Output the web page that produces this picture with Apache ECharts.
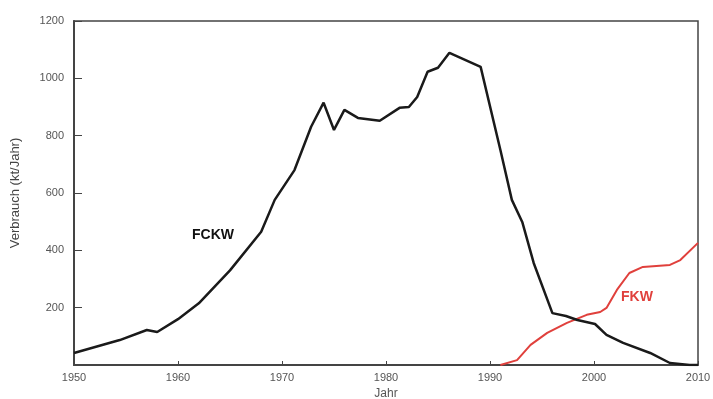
<!DOCTYPE html>
<html><head><meta charset="utf-8">
<script src="https://cdn.jsdelivr.net/npm/echarts@6/dist/echarts.min.js"></script>
<style>html,body{margin:0;padding:0;background:#fff}#c{width:713px;height:399px}</style>
</head><body><div id="c"></div>
<script>
const fckwYears = [1950,1954.4,1957,1958,1960,1962,1965,1968,1969.3,1971.2,1972.8,1974,1975,1976,1977.3,1979.4,1981.3,1982.2,1983,1984,1985,1986.1,1989.1,1991,1992.1,1993.1,1994.2,1996,1997.3,1998.4,2000.1,2001.2,2002.8,2005.4,2007.3,2009.2,2010];
const fckwValues = [42,87,122,115,160,215,330,465,576,680,831,915,820,890,862,852,897,900,935,1023,1037,1089,1040,750,576,499,356,181,171,157,143,105,77,42,7,0,0];
const fkwYears = [1991,1992.6,1993.9,1995.5,1997.4,1999.3,2000.6,2001.2,2002.2,2003.4,2004.7,2007.3,2008.3,2010];
const fkwValues = [0,17,70,112,147,175,185,199,262,321,342,349,366,426];
const yTicks = [0,200,400,600,800,1000,1200];
const xTicks = [1950,1960,1970,1980,1990,2000,2010];

const chart = echarts.init(document.getElementById('c'));
const labelFont = {color:'#555', fontSize:11, fontFamily:'Liberation Sans'};
chart.setOption({
  animation:false,
  grid:{left:74,right:15,top:21,bottom:34,show:true,borderColor:'#444',borderWidth:1.5,
    containLabel:false,outerBoundsMode:'none'},
  xAxis:{type:'value',min:xTicks[0],max:xTicks[xTicks.length-1],interval:10,
    name:'Jahr',nameLocation:'middle',nameGap:22,nameTextStyle:{color:'#555',fontSize:12,fontFamily:'Liberation Sans'},
    axisLine:{show:true,lineStyle:{color:'#444',width:2}},
    axisTick:{show:true,inside:true,length:4,lineStyle:{color:'#444'}},
    axisLabel:Object.assign({margin:7,formatter:v=>String(v)},labelFont),
    splitLine:{show:false}},
  yAxis:{type:'value',min:yTicks[0],max:yTicks[yTicks.length-1],interval:200,
    name:'Verbrauch (kt/Jahr)',nameLocation:'middle',nameGap:52,
    nameTextStyle:{color:'#444',fontSize:13,fontFamily:'Liberation Sans',letterSpacing:1.5},
    axisLine:{show:true,lineStyle:{color:'#444',width:2}},
    axisTick:{show:true,inside:true,length:8,lineStyle:{color:'#444'}},
    axisLabel:Object.assign({margin:10,formatter:v=>v===0?'':String(v)},labelFont),
    splitLine:{show:false}},
  series:[
    {type:'line',data:fckwYears.map((y,i)=>[y,fckwValues[i]]),showSymbol:false,
      lineStyle:{color:'#1a1a1a',width:2.5},z:3},
    {type:'line',data:fkwYears.map((y,i)=>[y,fkwValues[i]]),showSymbol:false,
      lineStyle:{color:'#e0403c',width:2},z:2}
  ],
  graphic:[
    {type:'text',left:192,top:228,style:{text:'FCKW',fill:'#111',font:'bold 14px "Liberation Sans"'}},
    {type:'text',left:621,top:290,style:{text:'FKW',fill:'#e0403c',font:'bold 14px "Liberation Sans"'}}
  ]
});
</script></body></html>
